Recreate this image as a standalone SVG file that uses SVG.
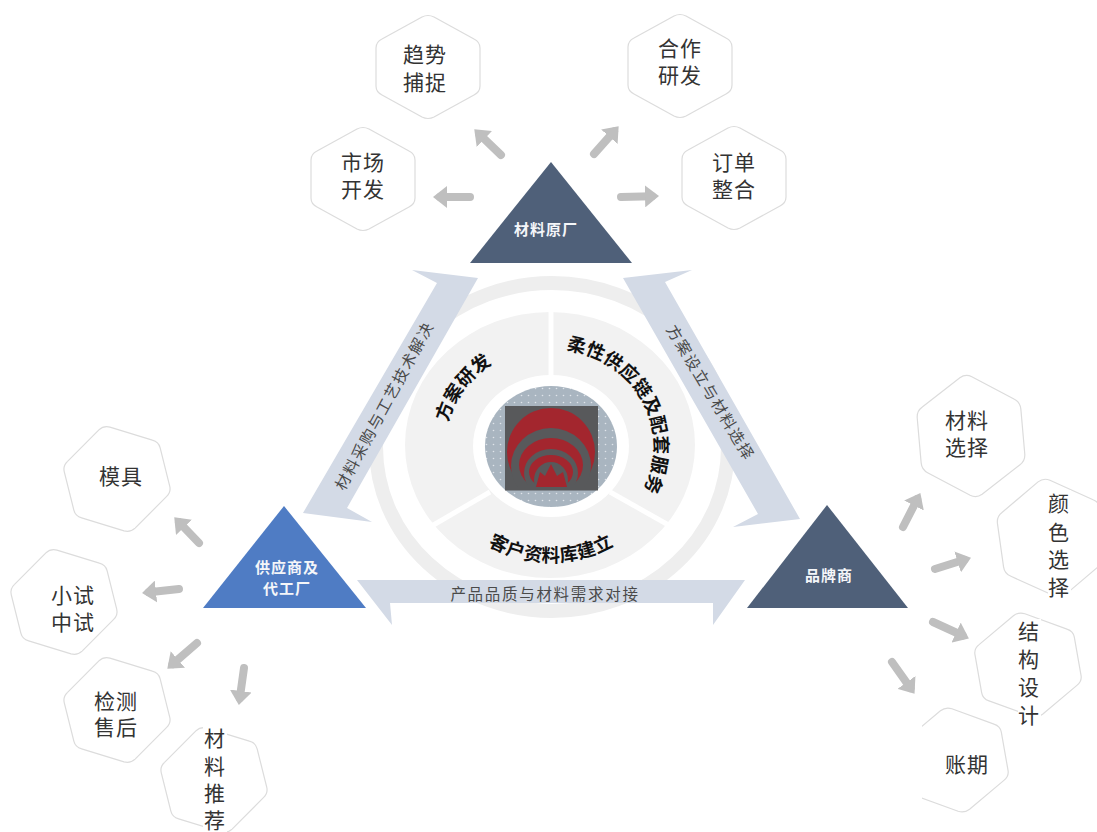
<svg xmlns="http://www.w3.org/2000/svg" width="1097" height="832" viewBox="0 0 1097 832">
<style>
text{font-family:"Noto Sans CJK SC","Noto Sans",sans-serif;text-anchor:middle}
.hex{fill:#fff;stroke:#dcdcdc;stroke-width:1.2;vector-effect:non-scaling-stroke}
.t{font-size:21px;fill:#333;letter-spacing:1px}
.w{font-size:15px;font-weight:700;fill:#f4f6f9;letter-spacing:1px}
.b{font-size:15.5px;fill:#4a4a4a;letter-spacing:1.7px}
.c{font-size:18.5px;font-weight:700;fill:#111;letter-spacing:.3px}
.band{fill:#d3dae6}
.arr{fill:none;stroke:#bfbfbf;stroke-width:8;stroke-linecap:round;marker-end:url(#head)}
.sep{stroke:#fff;stroke-width:5}
.red{fill:#a3262e}
.gr{fill:#58595b}
</style>
<defs>
<path id="hx" class="hex" d="M-6-50Q0-53 6-50L46-28Q52-25 52-19L52 19Q52 25 46 28L6 50Q0 53-6 50L-46 28Q-52 25-52 19L-52-19Q-52-25-46-28Z"/>
<marker id="head" markerUnits="userSpaceOnUse" markerWidth="14" markerHeight="22" refX="7" refY="11" orient="auto"><path d="M0 0L14 11L0 22Z" fill="#bfbfbf"/></marker>
<pattern id="dots" width="7" height="7" patternUnits="userSpaceOnUse"><rect width="7" height="7" fill="#a9b5c0"/><circle cx="3.5" cy="3.5" r=".8" fill="#dfe4ea"/></pattern>
<clipPath id="clipA"><rect x="922" y="690" width="120" height="140"/></clipPath>
<clipPath id="clipL"><rect x="505" y="406" width="93" height="81"/></clipPath>
<path id="p1" d="M445.4 454.500A104 98 0 0 1 522.100 351.300"/>
<path id="p2" d="M536.900 349.500A104 98 0 0 1 625.800 514.100"/>
<path id="p3" d="M451 512.400A122 116 0 0 0 651 512.400"/>
</defs>
<rect width="1097" height="832" fill="#fff"/>

<g id="hub">
<ellipse cx="552" cy="447" rx="176" ry="164" fill="none" stroke="#eeeeee" stroke-width="14"/>
<ellipse cx="550" cy="445" rx="145" ry="133" fill="#f2f2f2"/>
<line class="sep" x1="551" y1="308" x2="551" y2="385"/>
<line class="sep" x1="430" y1="527" x2="490" y2="492"/>
<line class="sep" x1="672" y1="527" x2="610" y2="492"/>
<ellipse cx="551" cy="446" rx="78" ry="71" fill="#fff"/>
<ellipse cx="551" cy="446.500" rx="66" ry="60.500" fill="url(#dots)"/>
<rect class="gr" x="505" y="406" width="93" height="84.500"/>
<g clip-path="url(#clipL)">
<ellipse class="red" cx="551" cy="452" rx="44" ry="44"/>
<ellipse class="gr" cx="551" cy="466" rx="40" ry="38"/>
<ellipse class="red" cx="551" cy="465" rx="32" ry="27"/>
<ellipse class="gr" cx="551" cy="473" rx="27" ry="24"/>
<ellipse class="red" cx="551" cy="472" rx="22" ry="17"/>
<ellipse class="gr" cx="551" cy="480" rx="17" ry="18"/>
</g>
<path class="red" d="M536 487L540 472L545 476L551 464L557 476L563 472L567 487Z"/>
<text class="c"><textPath href="#p1" startOffset="50%">方案研发</textPath></text>
<text class="c"><textPath href="#p2" startOffset="50%">柔性供应链及配套服务</textPath></text>
<text class="c"><textPath href="#p3" startOffset="50%">客户资料库建立</textPath></text>
</g>

<g id="connectors">
<path class="band" d="M478 278L412 270L437 283L303 513L372 522L347 508Z"/>
<path class="band" d="M623 278L692 270L665 282L800 519L733 527L758 514Z"/>
<path class="band" d="M357 580L745 580L713 625L713 603L390 603L392 625Z"/>
<text class="b" transform="translate(385 406) rotate(-61.500)" y="5">材料采购与工艺技术解决</text>
<text class="b" transform="translate(710 393) rotate(59)" y="5">方案设立与材料选择</text>
<text class="b" x="545" y="600">产品品质与材料需求对接</text>
<line class="arr" x1="470" y1="197" x2="440" y2="197"/>
<line class="arr" x1="501" y1="155" x2="479.300" y2="134.200"/>
<line class="arr" x1="594" y1="154" x2="614" y2="131.500"/>
<line class="arr" x1="621" y1="197" x2="652" y2="196.200"/>
<line class="arr" x1="199" y1="543" x2="179.100" y2="522.300"/>
<line class="arr" x1="179" y1="589" x2="149" y2="592.300"/>
<line class="arr" x1="197" y1="643" x2="172.600" y2="664.100"/>
<line class="arr" x1="244" y1="668" x2="239.800" y2="698"/>
<line class="arr" x1="903" y1="527" x2="917.200" y2="499.300"/>
<line class="arr" x1="935" y1="569" x2="964.300" y2="559.800"/>
<line class="arr" x1="933" y1="622" x2="962.500" y2="635.500"/>
<line class="arr" x1="892" y1="662" x2="910.500" y2="688.100"/>
</g>

<g id="n-yuanchang"><path d="M551 162L632 263L470 263Z" fill="#4f6079"/><text class="w" x="546" y="235">材料原厂</text></g>
<g id="n-gongying"><path d="M284 506L366 608L203 608Z" fill="#4f7cc4"/><text class="w" x="287" y="573">供应商及</text><text class="w" x="287" y="594">代工厂</text></g>
<g id="n-pinpai"><path d="M827 505L908 608L747 608Z" fill="#4f6079"/><text class="w" x="829" y="581">品牌商</text></g>

<g id="n-shichang"><use href="#hx" transform="translate(363 179)"/><text class="t" x="363" y="170">市场</text><text class="t" x="363" y="197">开发</text></g>
<g id="n-qushi"><use href="#hx" transform="translate(428 67)"/><text class="t" x="425" y="62">趋势</text><text class="t" x="425" y="90">捕捉</text></g>
<g id="n-hezuo"><use href="#hx" transform="translate(680 66)"/><text class="t" x="680" y="56">合作</text><text class="t" x="680" y="83">研发</text></g>
<g id="n-dingdan"><use href="#hx" transform="translate(734 178)"/><text class="t" x="734" y="170">订单</text><text class="t" x="734" y="197">整合</text></g>

<g id="n-moju"><use href="#hx" transform="translate(117 479) rotate(-14) scale(.95 1.040)"/><text class="t" x="121" y="484">模具</text></g>
<g id="n-xiaoshi"><use href="#hx" transform="translate(64 602) rotate(-14) scale(.95 1.040)"/><text class="t" x="73" y="603">小试</text><text class="t" x="73" y="630">中试</text></g>
<g id="n-jiance"><use href="#hx" transform="translate(117 710) rotate(-14) scale(.95 1.040)"/><text class="t" x="116" y="709">检测</text><text class="t" x="116" y="735">售后</text></g>
<g id="n-tuijian"><use href="#hx" transform="translate(214 780) rotate(-14) scale(.95 1.040)"/><rect x="203" y="727" width="24" height="105" fill="#fff"/><text class="t" x="215" y="746">材</text><text class="t" x="215" y="774">料</text><text class="t" x="215" y="801">推</text><text class="t" x="215" y="828">荐</text></g>

<g id="n-cailiao"><use href="#hx" transform="translate(971 436) rotate(-5) scale(1 1.180)"/><text class="t" x="967" y="428">材料</text><text class="t" x="967" y="455">选择</text></g>
<g id="n-yanse"><use href="#hx" transform="translate(1052 538) rotate(-8) scale(1 1.150)"/><rect x="1048" y="490" width="23" height="110" fill="#fff"/><text class="t" x="1059" y="511">颜</text><text class="t" x="1059" y="540">色</text><text class="t" x="1059" y="567">选</text><text class="t" x="1059" y="595">择</text></g>
<g id="n-jiegou"><use href="#hx" transform="translate(1028 665) rotate(-10) scale(.97 1.020)"/><rect x="1018" y="619" width="23" height="108" fill="#fff"/><text class="t" x="1029" y="639">结</text><text class="t" x="1029" y="667">构</text><text class="t" x="1029" y="695">设</text><text class="t" x="1029" y="723">计</text></g>
<g id="n-zhangqi"><g clip-path="url(#clipA)"><use href="#hx" transform="translate(955 760) rotate(-10) scale(.97 1.020)"/></g><text class="t" x="967" y="772">账期</text></g>
</svg>
